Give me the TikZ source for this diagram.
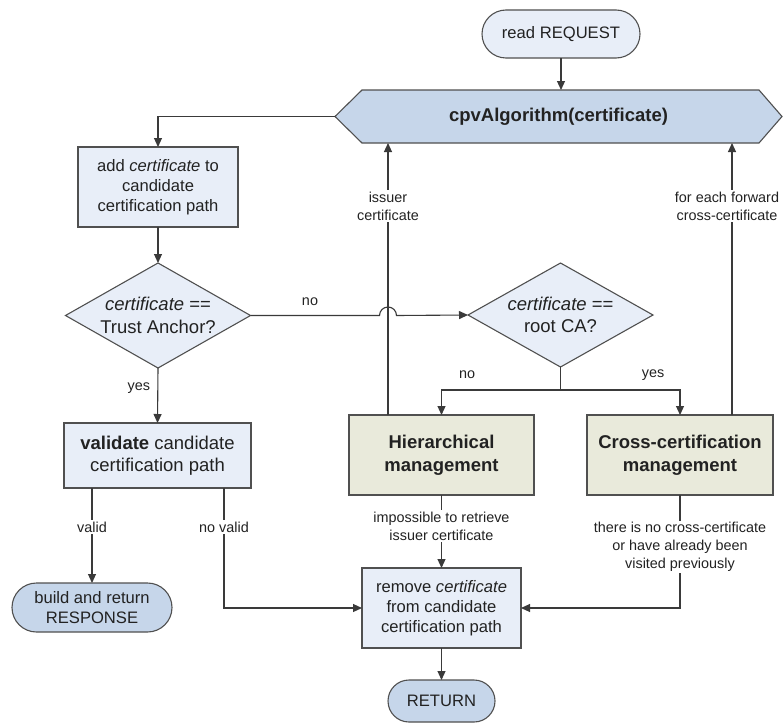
\documentclass[tikz,border=0pt]{standalone}
\usepackage{fontspec}
\setmainfont{Liberation Sans}
\usetikzlibrary{arrows.meta,shapes.geometric,shapes.misc}
\definecolor{lbox}{HTML}{E8EEF8}
\definecolor{bcap}{HTML}{C6D6EA}
\definecolor{khaki}{HTML}{E9EADB}
\definecolor{edgec}{HTML}{505050}
\definecolor{linec}{HTML}{3A3A3A}
\definecolor{txt}{HTML}{222222}
\newcommand\fsLab{\fontsize{14.4}{18}\selectfont}
\newcommand\fsMid{\fontsize{16.6}{20}\selectfont}
\newcommand\fsBig{\fontsize{18.5}{22.5}\selectfont}
\tikzset{
  x=1pt, y=-1pt,
  every node/.style={inner sep=0pt, outer sep=0pt, text=txt},
  shapebase/.style={draw=edgec, line width=1.1pt, align=center},
  procbox/.style={shapebase, rectangle, fill=lbox, font=\fsMid},
  mgmtbox/.style={shapebase, rectangle, fill=khaki, font=\fsBig\bfseries},
  capsule/.style={shapebase, rounded rectangle, fill=bcap, font=\fsMid},
  decide/.style={shapebase, diamond, fill=lbox},
  dtext/.style={align=center, font=\fsBig},
  lab/.style={align=center, font=\fsLab, fill=white, inner sep=1.5pt},
  tag/.style={align=center, font=\fsLab},
  conn/.style={draw=linec, line width=1.1pt},
  arr/.style={conn, -{Triangle[length=9pt,width=8pt]}},
}
\begin{document}
\begin{tikzpicture}
\useasboundingbox (0,0) rectangle (783,725);

% nodes
\node[capsule, fill=lbox, minimum width=158pt, minimum height=48pt] (req) at (561,34) {read REQUEST};
\node[rectangle, minimum width=447pt, minimum height=53pt] (algo) at (558.5,116.5) {};
\draw[fill=bcap, draw=edgec, line width=1.1pt]
  (algo.west) -- ([xshift=27pt]algo.north west) -- ([xshift=-23pt]algo.north east)
  -- (algo.east) -- ([xshift=-23pt]algo.south east) -- ([xshift=27pt]algo.south west) -- cycle;
\node[font=\fsBig\bfseries] (algot) at (algo.center) {cpvAlgorithm(certificate)};

\node[procbox, minimum width=160pt, minimum height=80pt] (add) at (158,187)
  {add \textit{certificate} to\\candidate\\certification path};
\node[decide, minimum width=185pt, minimum height=105pt] (d1) at (158,315.5) {};
\node[dtext] (d1t) at (d1.center) {\textit{certificate} ==\\Trust Anchor?};
\node[decide, minimum width=185pt, minimum height=104pt] (d2) at (560.5,315) {};
\node[dtext] (d2t) at (d2.center) {\textit{certificate} ==\\root CA?};

\node[procbox, font=\fsBig, minimum width=187pt, minimum height=65pt] (val) at (157.5,455.5)
  {\textbf{validate} candidate\\certification path};
\node[mgmtbox, minimum width=185pt, minimum height=80pt] (hier) at (441.5,455)
  {Hierarchical\\management};
\node[mgmtbox, minimum width=186pt, minimum height=80pt] (cross) at (680,455)
  {Cross-certification\\management};

\node[capsule, minimum width=160pt, minimum height=49pt] (resp) at (92,607.5)
  {build and return\\RESPONSE};
\node[procbox, minimum width=159pt, minimum height=80pt] (rem) at (441.5,608)
  {remove \textit{certificate}\\from candidate\\certification path};
\node[capsule, minimum width=107pt, minimum height=42pt] (ret) at (441.5,701) {RETURN};

% coordinates for branch lines
\coordinate (up1) at (388,415);
\coordinate (up2) at (732,415);
\coordinate (nv) at (224,488);

% connectors
\draw[arr] (req.south) -- (req.south |- algo.north);
\draw[arr] (algo.west) -| (add.north);
\draw[arr] (add.south) -- (d1.north);
\draw[arr] (d1.south) -- (val.north);
\node[tag, anchor=east] (yes1) at (150,388) {yes};

\draw[arr] (d1.east) -- ([xshift=-8.5pt]d1.east -| up1)
  arc[start angle=180, end angle=0, radius=8.5pt] -- (d2.west);
\node[tag] (no1) at (310,302) {no};

\draw[arr] (d2.south) -- ++(0,23) -| (hier.north);
\draw[arr] (d2.south) -- ++(0,23) -| (cross.north);
\node[tag] (no2) at (467,375) {no};
\node[tag] (yes2) at (653,375) {yes};

\draw[arr] (up1) -- (up1 |- algo.south);
\node[lab] (l1) at (388,206) {issuer\\certificate};
\draw[arr] (up2) -- (up2 |- algo.south);
\node[lab] (l2) at (727,206) {for each forward\\cross-certificate};

\draw[arr] (val.south -| resp.north) -- (resp.north);
\node[lab] (l3) at (92,527) {valid};
\draw[arr] (nv) |- (rem.west);
\node[lab] (l4) at (224,527) {no valid};

\draw[arr] (hier.south) -- (rem.north);
\node[lab] (l5) at (441.5,526) {impossible to retrieve\\issuer certificate};
\draw[arr] (cross.south) |- (rem.east);
\node[lab] (l6) at (680,547) {there is no cross-certificate\\or have already been\\visited previously};

\draw[arr] (rem.south) -- (ret.north);
\end{tikzpicture}
\end{document}
